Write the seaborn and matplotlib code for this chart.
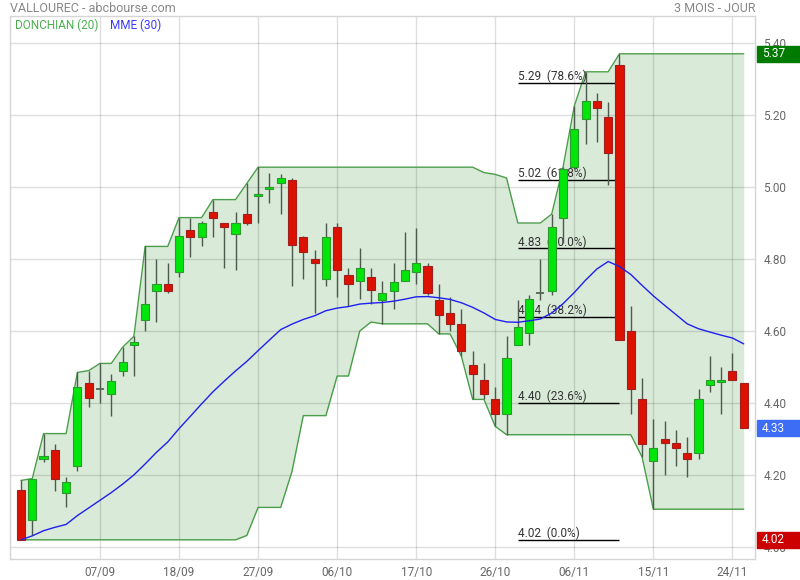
import numpy as np
import pandas as pd
import seaborn as sns
import matplotlib.pyplot as plt
from matplotlib.patches import Rectangle
from matplotlib.transforms import blended_transform_factory

# daily session dates, 3 months
dates = pd.bdate_range('2017-08-29', '2017-11-27')

opens = [4.159, 4.075, 4.245, 4.27, 4.15, 4.225, 4.455, 4.44, 4.425, 4.49,
         4.56, 4.63, 4.71, 4.73, 4.765, 4.88, 4.86, 4.93, 4.90, 4.87,
         4.925, 4.975, 4.995, 5.01, 5.02, 4.86, 4.80, 4.745, 4.89, 4.755,
         4.74, 4.75, 4.685, 4.71, 4.74, 4.765, 4.78, 4.685, 4.65, 4.62,
         4.505, 4.465, 4.41, 4.37, 4.56, 4.595, 4.705, 4.71, 4.915, 5.055,
         5.19, 5.24, 5.195, 5.34, 4.60, 4.41, 4.24, 4.30, 4.29, 4.26,
         4.26, 4.45, 4.457, 4.49, 4.455]
highs = [4.185, 4.19, 4.315, 4.285, 4.195, 4.485, 4.49, 4.51, 4.48, 4.555,
         4.585, 4.835, 4.80, 4.79, 4.915, 4.915, 4.905, 4.965, 4.90, 4.93,
         5.01, 5.055, 5.04, 5.035, 5.025, 4.865, 4.825, 4.90, 4.90, 4.775,
         4.83, 4.775, 4.74, 4.79, 4.875, 4.885, 4.79, 4.73, 4.695, 4.66,
         4.545, 4.51, 4.445, 4.585, 4.685, 4.70, 4.80, 4.925, 5.055, 5.225,
         5.32, 5.26, 5.235, 5.37, 4.67, 4.47, 4.355, 4.35, 4.325, 4.305,
         4.44, 4.53, 4.50, 4.54, 4.455]
lows = [4.02, 4.032, 4.235, 4.155, 4.11, 4.21, 4.39, 4.40, 4.365, 4.475,
        4.475, 4.60, 4.625, 4.705, 4.75, 4.805, 4.835, 4.86, 4.775, 4.77,
        4.895, 4.90, 4.955, 4.925, 4.725, 4.745, 4.65, 4.725, 4.695, 4.67,
        4.69, 4.675, 4.62, 4.66, 4.74, 4.73, 4.70, 4.592, 4.60, 4.53,
        4.41, 4.41, 4.335, 4.312, 4.56, 4.56, 4.685, 4.70, 4.845, 5.05,
        5.12, 5.125, 5.005, 4.575, 4.37, 4.25, 4.105, 4.20, 4.225, 4.195,
        4.245, 4.43, 4.37, 4.465, 4.33]
closes = [4.02, 4.19, 4.253, 4.19, 4.18, 4.445, 4.415, 4.44, 4.46, 4.515,
          4.57, 4.675, 4.73, 4.71, 4.865, 4.86, 4.90, 4.915, 4.89, 4.90,
          4.90, 4.98, 5.00, 5.025, 4.84, 4.82, 4.79, 4.86, 4.77, 4.73,
          4.775, 4.715, 4.705, 4.735, 4.77, 4.79, 4.705, 4.645, 4.62, 4.545,
          4.48, 4.425, 4.37, 4.525, 4.61, 4.69, 4.705, 4.89, 5.05, 5.16,
          5.24, 5.22, 5.095, 4.575, 4.44, 4.285, 4.275, 4.29, 4.275, 4.245,
          4.41, 4.465, 4.463, 4.465, 4.33]

tick_labels = ['07/09', '18/09', '27/09', '06/10', '17/10', '26/10', '06/11', '15/11', '24/11']
price_ticks = [4.00, 4.20, 4.40, 4.60, 4.80, 5.00, 5.20, 5.40]
fib_levels = [4.02, 4.40, 4.64, 4.83, 5.02, 5.29]
fib_pcts = ['0.0%', '23.6%', '38.2%', '50.0%', '61.8%', '78.6%']

df = pd.DataFrame({'date': dates, 'open': opens, 'high': highs, 'low': lows, 'close': closes})
df['idx'] = np.arange(len(df))
df['upper'] = df['high'].rolling(20, min_periods=1).max()
df['lower'] = df['low'].rolling(20, min_periods=1).min()
df['mme'] = df['close'].ewm(span=30, adjust=False).mean()

sns.set_theme(style='white')
plt.rcParams['font.family'] = ['Roboto', 'DejaVu Sans']

fig = plt.figure(figsize=(8, 5.8), dpi=100)
ax = fig.add_axes([10 / 800, 21 / 580, 745 / 800, 543 / 580])

# Donchian channel
ax.fill_between(df['idx'], df['lower'], df['upper'], color='#d9ead8', lw=0, zorder=1)
sns.lineplot(x='idx', y='upper', data=df, color='#4a9e4a', lw=1, ax=ax, zorder=2)
sns.lineplot(x='idx', y='lower', data=df, color='#4a9e4a', lw=1, ax=ax, zorder=2)

# fibonacci levels between the swing candles
fib_start, fib_end = 44, 53
for lvl, pct in zip(fib_levels, fib_pcts):
    ax.hlines(lvl, fib_start, fib_end, color='black', lw=1, zorder=3)
    ax.text(fib_start, lvl + 0.007, f'{lvl:.2f}  ({pct})', ha='left', va='baseline',
            fontsize=8.5, color='#333333', zorder=3)

# candles
up = df['close'] >= df['open']
body_col = np.where(up, '#00e60a', '#dd1100')
edge_col = np.where(up, '#2c9a2c', '#a02020')
ax.vlines(df['idx'], df['low'], df['high'], color='#4d5a4d', lw=1, zorder=4)
body_h = (df['close'] - df['open']).abs().clip(lower=0.005)
body_b = df[['open', 'close']].min(axis=1)
flat = df['close'] == df['open']
ax.bar(df['idx'][~flat], body_h[~flat], bottom=body_b[~flat], width=0.72,
       color=body_col[~flat], edgecolor=edge_col[~flat], lw=0.8, zorder=5)
ax.hlines(df['close'][flat], df['idx'][flat] - 0.36, df['idx'][flat] + 0.36,
          color='#4d5a4d', lw=1.2, zorder=5)

# moving average
sns.lineplot(x='idx', y='mme', data=df, color='#1f1ff0', lw=1, ax=ax, zorder=6)

ax.set_xlim(-0.97, 65.0)
ax.set_ylim(3.9667, 5.475)
tick_pos = [i for i, d in enumerate(df['date']) if d.strftime('%d/%m') in tick_labels]
ax.set_xticks(tick_pos)
ax.set_xticklabels(tick_labels)
ax.set_yticks(price_ticks)
ax.set_yticklabels([f'{p:.2f}' for p in price_ticks])
ax.yaxis.tick_right()
ax.tick_params(axis='both', length=0, labelsize=8.5, labelcolor='#666666')
ax.tick_params(axis='y', pad=6)
ax.tick_params(axis='x', pad=5)
ax.set_xlabel('')
ax.set_ylabel('')
ax.grid(True, color='black', alpha=0.13, lw=1)
ax.set_axisbelow('line')
for sp in ax.spines.values():
    sp.set_color('#d5d5d5')
    sp.set_linewidth(1)

# value boxes on the right axis
trans = blended_transform_factory(ax.transAxes, ax.transData)
boxes = [(df['high'].max(), '#007a00'), (df['close'].iloc[-1], '#3d6cf5'), (df['low'].min(), '#cc0000')]
for val, col in boxes:
    ax.add_patch(Rectangle((1.0027, val - 0.022), 0.06, 0.044, transform=trans,
                           color=col, clip_on=False, zorder=10))
    ax.text(1.0094, val, f'{val:.2f}', transform=trans, ha='left', va='center',
            fontsize=8.5, color='white', zorder=11, clip_on=False)

# header and legend
fig.text(10 / 800, 1 - 9 / 580, 'VALLOUREC - abcbourse.com', fontsize=9, color='#888888', va='center')
fig.text(755 / 800, 1 - 9 / 580, '3 MOIS - JOUR', fontsize=9, color='#888888', va='center', ha='right')
fig.text(15 / 800, 1 - 25 / 580, 'DONCHIAN (20)', fontsize=8.5, color='#4caf50', va='center')
fig.text(110 / 800, 1 - 25 / 580, 'MME (30)', fontsize=8.5, color='#3a3aff', va='center')

fig.savefig('out.png', dpi=100)
